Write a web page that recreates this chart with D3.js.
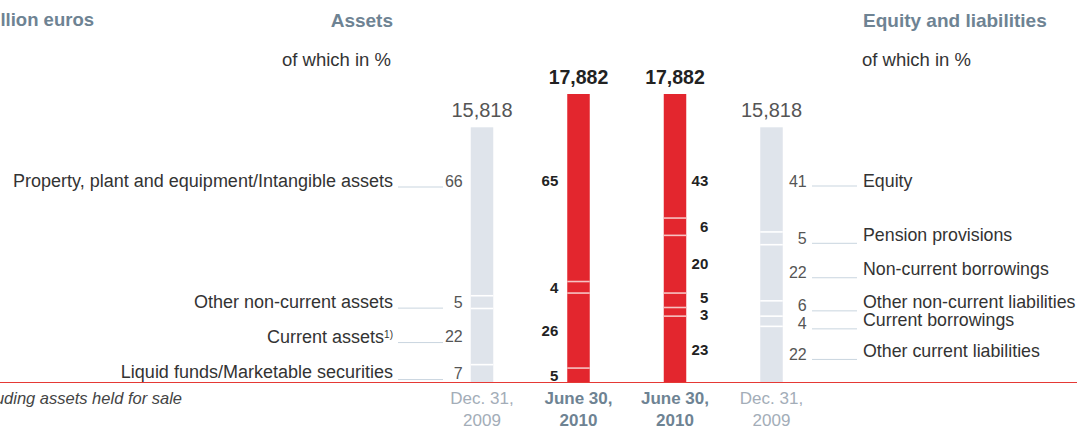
<!DOCTYPE html>
<html>
<head>
<meta charset="utf-8">
<script src="https://cdn.jsdelivr.net/npm/d3@7"></script>
<style>
  body { margin: 0; background: #fff; }
  svg { display: block; font-family: "Liberation Sans", Arial, sans-serif; }
</style>
</head>
<body>
<svg width="1077" height="429"></svg>
<script>
// balance sheet structure, percent shares listed top to bottom
const assetCategories = ['Property, plant and equipment/Intangible assets', 'Other non-current assets', 'Current assets', 'Liquid funds/Marketable securities'];
const assets2009 = [66, 5, 22, 7];
const assets2010 = [65, 4, 26, 5];
const liabCategories = ['Equity', 'Pension provisions', 'Non-current borrowings', 'Other non-current liabilities', 'Current borrowings', 'Other current liabilities'];
const liab2010 = [43, 6, 20, 5, 3, 23];
const liab2009 = [41, 5, 22, 6, 4, 22];
const totals = [15818, 17882, 17882, 15818];
const dateLine1 = ['Dec. 31,', 'June 30,', 'June 30,', 'Dec. 31,'];
const dateLine2 = ['2009', '2010', '2010', '2009'];

const svg = d3.select('svg');
const width = +svg.attr('width');
const baseY = 382.5;
const barW = 22.5;
const topLabelY = 181;

const y = d3.scaleLinear().domain([0, 17882]).range([baseY, 94]);
const x = d3.scalePoint().domain([0, 1, 2, 3]).range([482, 771.5]);

const fmt = d3.format(',');
const headColor = '#6e8393';
const greyBar = '#dfe4eb';
const redBar = '#e3262e';

const bars = [
  {shares: assets2009, total: totals[0], fill: greyBar, div: '#fff', gap: 16.5},
  {shares: assets2010, total: totals[1], fill: redBar, div: '#f6c3c3', gap: 16.5},
  {shares: liab2010, total: totals[2], fill: redBar, div: '#f6c3c3', gap: 16.5},
  {shares: liab2009, total: totals[3], fill: greyBar, div: '#fff', gap: 18}
];

// segments measured from the top of each bar
bars.forEach(b => {
  const cum = [0, ...d3.cumsum(b.shares)];
  b.segs = b.shares.map((p, i) => ({
    p,
    y0: y(b.total * (1 - cum[i] / 100)),
    y1: y(b.total * (1 - cum[i + 1] / 100))
  }));
});

function dodge(ys, gap) {
  const out = ys.slice();
  for (let k = 0; k < 10; k++) {
    for (let i = 1; i < out.length - 1; i++) {
      if (out[i + 1] - out[i] < gap) {
        const m = (out[i] + out[i + 1]) / 2;
        out[i] = m - gap / 2;
        out[i + 1] = m + gap / 2;
      }
    }
  }
  return out;
}
bars.forEach(b => {
  const ys = b.segs.map(s => (s.y0 + s.y1) / 2);
  ys[0] = topLabelY;
  b.labelY = dodge(ys, b.gap);
});

// headers
const head = (t, xx, yy, anchor, bold) => svg.append('text')
  .attr('x', xx).attr('y', yy).attr('dy', '0.35em').attr('text-anchor', anchor)
  .style('font-size', bold ? '19px' : '18.5px')
  .style('font-weight', bold ? 'bold' : 'normal')
  .attr('fill', bold ? headColor : '#333').text(t);

// "Mi" of the unit header runs off the left edge
const mi = head('Mi', 0, 20, 'start', true);
const miW = mi.node().getComputedTextLength();
mi.remove();
head('Million euros', -miW + 1, 20, 'start', true).style('font-size', '18.5px');
head('Assets', 393, 20, 'end', true);
head('Equity and liabilities', 863, 20, 'start', true);
head('of which in %', 391, 60, 'end', false);
head('of which in %', 862, 60, 'start', false);

// bars
const g = svg.append('g');
bars.forEach((b, i) => {
  const cx = x(i);
  g.append('rect')
    .attr('x', cx - barW / 2).attr('width', barW)
    .attr('y', y(b.total)).attr('height', baseY - y(b.total))
    .attr('fill', b.fill);
  g.selectAll(null)
    .data(b.segs.slice(1))
    .enter().append('line')
    .attr('x1', cx - barW / 2).attr('x2', cx + barW / 2)
    .attr('y1', d => d.y0).attr('y2', d => d.y0)
    .attr('stroke', b.div).attr('stroke-width', 1.6);

  const red = b.fill === redBar;
  svg.append('text')
    .attr('x', cx).attr('y', y(b.total) - 17).attr('dy', '0.35em')
    .attr('text-anchor', 'middle')
    .style('font-size', red ? '19.5px' : '20px')
    .style('font-weight', red ? 'bold' : 'normal')
    .attr('fill', red ? '#222' : '#555')
    .text(fmt(b.total));

  svg.append('text').attr('x', cx).attr('y', 398).attr('dy', '0.35em').attr('text-anchor', 'middle')
    .style('font-size', '17px').style('font-weight', red ? 'bold' : 'normal')
    .attr('fill', red ? headColor : '#a3adb8').text(dateLine1[i]);
  svg.append('text').attr('x', cx).attr('y', 420).attr('dy', '0.35em').attr('text-anchor', 'middle')
    .style('font-size', '17px').style('font-weight', red ? 'bold' : 'normal')
    .attr('fill', red ? headColor : '#a3adb8').text(dateLine2[i]);
});

// value labels next to bars
const valuePos = [
  {dx: -8, anchor: 'end'},
  {dx: -9, anchor: 'end'},
  {dx: 22, anchor: 'end', right: true},
  {dx: 24, anchor: 'end', right: true}
];
bars.forEach((b, i) => {
  const vp = valuePos[i];
  const red = b.fill === redBar;
  const xx = vp.right ? x(i) + barW / 2 + vp.dx : x(i) - barW / 2 + vp.dx;
  svg.selectAll(null)
    .data(b.shares)
    .enter().append('text')
    .attr('x', xx).attr('y', (d, j) => b.labelY[j]).attr('dy', '0.35em')
    .attr('text-anchor', vp.anchor)
    .style('font-size', red ? '15px' : '16px')
    .style('font-weight', red ? 'bold' : 'normal')
    .attr('fill', red ? '#222' : '#555')
    .text(d => d);
});

// category labels with leader lines
const leftY = bars[0].labelY;
svg.selectAll(null).data(assetCategories).enter().append('line')
  .attr('x1', 398).attr('x2', 443)
  .attr('y1', (d, j) => leftY[j] + 6).attr('y2', (d, j) => leftY[j] + 6)
  .attr('stroke', '#c9d5df').attr('stroke-width', 1);
const lt = svg.selectAll(null).data(assetCategories).enter().append('text')
  .attr('x', 393).attr('y', (d, j) => leftY[j] - (j === 3 ? 1.5 : 0)).attr('dy', '0.35em')
  .attr('text-anchor', 'end')
  .style('font-size', '18px').attr('fill', '#333')
  .text(d => d);
lt.filter(d => d === 'Current assets').append('tspan')
  .attr('dy', '-0.5em').style('font-size', '10px').text('1)');

const rightY = bars[3].labelY;
svg.selectAll(null).data(liabCategories).enter().append('line')
  .attr('x1', 812).attr('x2', 857)
  .attr('y1', (d, j) => rightY[j] + 5).attr('y2', (d, j) => rightY[j] + 5)
  .attr('stroke', '#c9d5df').attr('stroke-width', 1);
svg.selectAll(null).data(liabCategories).enter().append('text')
  .attr('x', 863).attr('y', (d, j) => rightY[j] - (j === 0 ? 0 : 4)).attr('dy', '0.35em')
  .style('font-size', '17.8px').attr('fill', '#333')
  .text(d => d);

// baseline and footnote
svg.append('line').attr('x1', 0).attr('x2', width).attr('y1', baseY).attr('y2', baseY)
  .attr('stroke', '#e53935').attr('stroke-width', 1.2);
svg.append('text').attr('x', 182).attr('y', 398).attr('dy', '0.35em').attr('text-anchor', 'end')
  .style('font-size', '16.5px').style('font-style', 'italic').attr('fill', '#444')
  .text('1) Excluding assets held for sale');
</script>
</body>
</html>
